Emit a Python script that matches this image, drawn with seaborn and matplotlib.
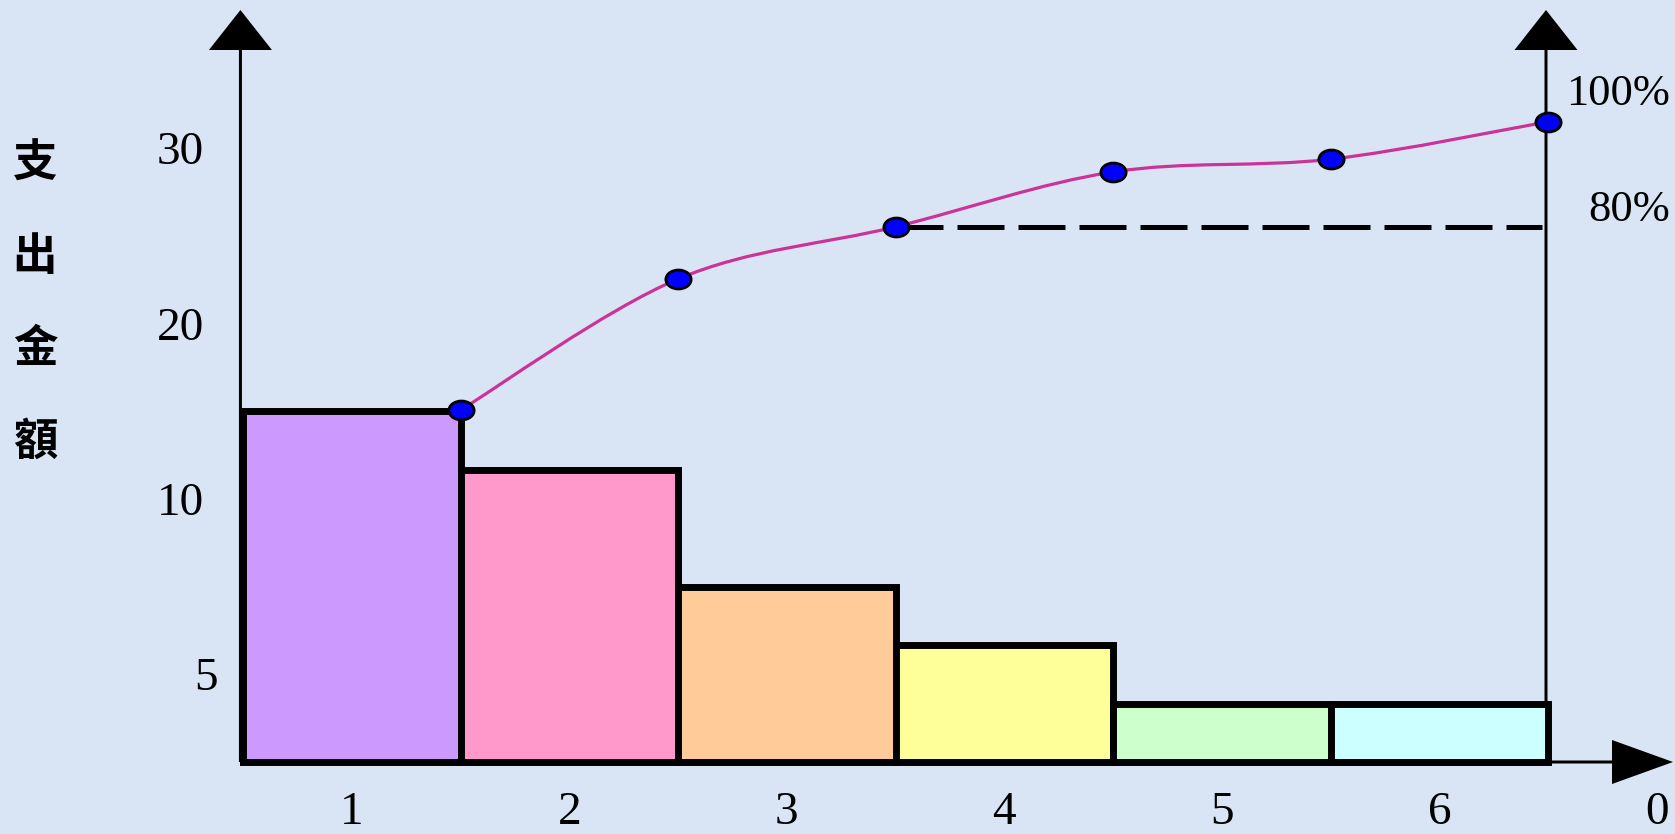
import numpy as np
import pandas as pd
import matplotlib
matplotlib.use("Agg")
import matplotlib.pyplot as plt
from matplotlib.path import Path
from matplotlib.patches import PathPatch
from matplotlib.transforms import Affine2D, ScaledTranslation
import seaborn as sns

# ---- data -------------------------------------------------------------
categories = ["1", "2", "3", "4", "5", "6"]
amounts = [6, 5, 3, 2, 1, 1]
cumulative_pct = [52.6, 72.2, 80.0, 88.2, 90.1, 95.7]
bar_colors = ["#cc99ff", "#ff99cc", "#ffcc99", "#ffff99", "#ccffcc", "#ccffff"]
x_tick_labels = ["1", "2", "3", "4", "5", "6", "0"]
y_tick_positions = [1.5, 4.5, 7.5, 10.5]
y_tick_labels = ["5", "10", "20", "30"]
pct_labels = ["100%", "80%"]
pct_levels = [100, 80]
threshold_pct = 80
y_label = "支出金額"

# ---- style ------------------------------------------------------------
sns.set_style("white")
plt.rcParams["font.family"] = ["Liberation Serif", "DejaVu Serif"]
plt.rcParams["text.color"] = "black"
plt.rcParams["xtick.color"] = "black"
plt.rcParams["ytick.color"] = "black"
plt.rcParams["axes.labelcolor"] = "black"
cjk_family = ["Noto Sans CJK TC", "DejaVu Sans"]
bg_color = "#d9e5f5"
curve_color = "#cc3399"

W, H = 1675, 834
fig = plt.figure(figsize=(W / 100, H / 100), dpi=100)
fig.patch.set_facecolor(bg_color)

# axes box: from the left axis line to the x-arrow tip, baseline to y-arrow tip
ax = fig.add_axes([240 / W, (H - 762) / H, (1673 - 240) / W, (762 - 10) / H])
ax.set_facecolor("none")

df = pd.DataFrame({"category": categories, "amount": amounts})
sns.barplot(data=df, x="category", y="amount", hue="category",
            palette=bar_colors, legend=False, width=1.0, saturation=1,
            edgecolor="black", linewidth=5.0, ax=ax, zorder=3)
for p in ax.patches:
    p.set_clip_on(False)

px_x = 217.5   # pixels per category
px_y = 58.5    # pixels per amount unit
x_left = -0.5 - 3 / px_x
x_right = -0.5 + (1673 - 243) / px_x
y_top = 752 / px_y
ax.set_xlim(x_left, x_right)
ax.set_ylim(0, y_top)

for s in ax.spines.values():
    s.set_visible(False)
ax.set_xlabel("")
ax.set_xticks(range(len(x_tick_labels)), x_tick_labels)
ax.set_yticks(y_tick_positions, y_tick_labels)
ax.tick_params(axis="both", length=0, labelsize=34, labelcolor="black")
ax.tick_params(axis="x", pad=21)
ax.tick_params(axis="y", pad=26)
# the lowest label sits a little further right than the others
first = ax.get_yticklabels()[0]
first.set_transform(first.get_transform()
                    + ScaledTranslation(10 / 72, 0, fig.dpi_scale_trans))

ax.set_ylabel("\n".join(y_label), rotation=0, fontsize=32,
              family=cjk_family, fontweight="bold", color="black",
              linespacing=2.3, va="center", ha="center")
ax.yaxis.set_label_coords((35 - 240) / 1433, (762 - 303) / 752)

# axis arrows
right_axis_x = -0.5 + (1546 - 243) / px_x
arrow_kw = dict(length_includes_head=True, fc="black", ec="none",
                clip_on=False, zorder=2)
for xa in (x_left + 0.002, right_axis_x):
    ax.arrow(xa, 0, 0, y_top, width=3 / px_x, head_width=63 / px_x,
             head_length=40 / px_y, **arrow_kw)
ax.arrow(x_left, 0, x_right - x_left, 0, width=3 / px_y,
         head_width=44 / px_y, head_length=61 / px_x, **arrow_kw)

# cumulative percentage on a secondary scale
ax2 = ax.twinx()
ax2.set_ylim(0, 752 / 669 * 100)
for s in ax2.spines.values():
    s.set_visible(False)
ax2.set_yticks([])

cx = np.arange(len(categories)) + 0.5
cy = np.asarray(cumulative_pct, dtype=float)

# smooth curve through the cumulative points (Catmull-Rom as cubic Beziers)
pts = np.column_stack([cx, cy])
ext = np.vstack([pts[0], pts, pts[-1]])
verts = [tuple(pts[0])]
codes = [Path.MOVETO]
for i in range(len(pts) - 1):
    p0, p1, p2, p3 = ext[i], ext[i + 1], ext[i + 2], ext[i + 3]
    c1 = p1 + (p2 - p0) / 6.0
    c2 = p2 - (p3 - p1) / 6.0
    verts += [tuple(c1), tuple(c2), tuple(p2)]
    codes += [Path.CURVE4] * 3
ax2.add_patch(PathPatch(Path(verts, codes), facecolor="none",
                        edgecolor=curve_color, lw=2.3, zorder=4,
                        clip_on=False))

# dashed 80% reference line
idx80 = int(np.argmin(np.abs(cy - threshold_pct)))
ax2.hlines(threshold_pct, cx[idx80], right_axis_x - 0.02, colors="black",
           linewidth=3.6, linestyles=(0, (9.4, 2.8)), zorder=4)

ellipse = Path.unit_circle().transformed(Affine2D().scale(1.0, 0.75))
sns.scatterplot(x=cx, y=cy, marker=ellipse, s=330, color="#0000ff",
                edgecolor="black", linewidth=2.0, ax=ax2, zorder=5,
                clip_on=False)
ax2.set_xlim(x_left, x_right)

pct_offsets = [-1, 12]
for lab, lev, off in zip(pct_labels, pct_levels, pct_offsets):
    ax2.annotate(lab, xy=(1, lev), xycoords=("axes fraction", "data"),
                 xytext=(-2, off), textcoords="offset points",
                 ha="right", va="center", fontsize=32, color="black")

fig.savefig("out.png", dpi=100, facecolor=fig.get_facecolor())
